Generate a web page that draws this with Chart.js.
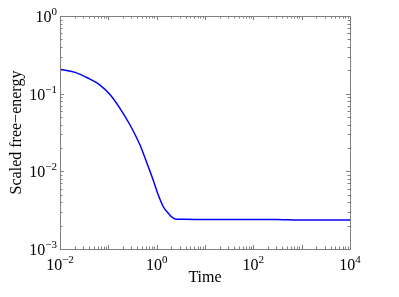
<!DOCTYPE html>
<html>
<head>
<meta charset="utf-8">
<script src="https://cdn.jsdelivr.net/npm/chart.js@4/dist/chart.umd.min.js"></script>
<style>
html,body{margin:0;padding:0;background:#fff;}
#wrap{width:399px;height:297px;position:relative;}
</style>
</head>
<body>
<div id="wrap"><canvas id="c" width="399" height="297"></canvas></div>
<script>
const times = [0.01, 0.0204, 0.0385, 0.0672, 0.108, 0.174, 0.281, 0.452, 0.662, 0.86, 1.081, 1.372, 1.741, 2.209, 2.636, 3.86, 10, 100, 300, 900, 10000];
const freeEnergy = [0.206, 0.188, 0.158, 0.129, 0.0976, 0.0648, 0.0395, 0.0218, 0.0117, 0.00751, 0.00496, 0.0035, 0.00288, 0.00249, 0.00241, 0.00241, 0.0024, 0.0024, 0.0024, 0.00236, 0.00236];
const xTickExps = [-2, 0, 2, 4];
const yTickExps = [-3, -2, -1, 0];
const xTitle = 'Time';
const yTitle = 'Scaled free\u2212energy';

const FONT = '"Liberation Serif", "Times New Roman", serif';
const AXIS = '#7f7f7f';

const decor = {
  id: 'decor',
  afterDraw(chart) {
    const ctx = chart.ctx, a = chart.chartArea;
    const xs = chart.scales.x, ys = chart.scales.y;
    ctx.save();
    ctx.strokeStyle = AXIS; ctx.lineWidth = 1;
    ctx.strokeRect(Math.round(a.left)+0.5, Math.round(a.top)+0.5, Math.round(a.right-a.left), Math.round(a.bottom-a.top));
    ctx.beginPath();
    for (let e = -2; e <= 4; e++) {
      for (let m = 1; m <= 9; m++) {
        const v = m * Math.pow(10, e);
        if (v > 1e4 + 1e-9) break;
        const px = Math.round(xs.getPixelForValue(v)) + 0.5;
        const len = (m === 1) ? 4 : 2.5;
        ctx.moveTo(px, a.bottom); ctx.lineTo(px, a.bottom - len);
        ctx.moveTo(px, a.top); ctx.lineTo(px, a.top + len);
      }
    }
    for (let e = -3; e <= 0; e++) {
      for (let m = 1; m <= 9; m++) {
        const v = m * Math.pow(10, e);
        if (v > 1 + 1e-9) break;
        const py = Math.round(ys.getPixelForValue(v)) + 0.5;
        const len = (m === 1) ? 4 : 2.5;
        ctx.moveTo(a.left, py); ctx.lineTo(a.left + len, py);
        ctx.moveTo(a.right, py); ctx.lineTo(a.right - len, py);
      }
    }
    ctx.stroke();
    ctx.fillStyle = '#000';
    const base = '16px ' + FONT, sup = '11px ' + FONT;
    function label(exp, x, y, align) {
      const b = '10', s = (exp < 0 ? '\u2212' : '') + Math.abs(exp);
      ctx.font = base; const bw = ctx.measureText(b).width;
      ctx.font = sup; const sw = ctx.measureText(s).width;
      let x0 = align === 'right' ? x - bw - sw : x - (bw + sw) / 2;
      ctx.textBaseline = 'alphabetic'; ctx.textAlign = 'left';
      ctx.font = base; ctx.fillText(b, x0, y);
      ctx.font = sup; ctx.fillText(s, x0 + bw, y - 7);
    }
    yTickExps.forEach(e => {
      const py = ys.getPixelForValue(Math.pow(10, e));
      label(e, a.left - 3, py + 6, 'right');
    });
    xTickExps.forEach(e => {
      const px = xs.getPixelForValue(Math.pow(10, e));
      label(e, px, a.bottom + 21, 'center');
    });
    ctx.font = '16px ' + FONT;
    ctx.textAlign = 'center'; ctx.textBaseline = 'alphabetic';
    ctx.fillText(xTitle, (a.left + a.right) / 2, 282);
    ctx.save();
    ctx.translate(21, (a.top + a.bottom) / 2);
    ctx.rotate(-Math.PI / 2);
    ctx.fillText(yTitle, 0, 0);
    ctx.restore();
    ctx.restore();
  }
};

new Chart(document.getElementById('c'), {
  type: 'line',
  data: {
    datasets: [{
      data: times.map((t, i) => ({x: t, y: freeEnergy[i]})),
      borderColor: '#0000ff',
      borderWidth: 1.5,
      pointRadius: 0,
      fill: false,
      cubicInterpolationMode: 'monotone'
    }]
  },
  options: {
    responsive: false,
    animation: false,
    devicePixelRatio: 1,
    layout: {padding: {left: 60, top: 16, right: 49, bottom: 48}},
    plugins: {legend: {display: false}, tooltip: {enabled: false}},
    scales: {
      x: {
        type: 'logarithmic', min: 0.01, max: 10000,
        ticks: {display: false}, grid: {display: false}, border: {display: false},
        afterFit(s) { s.height = 0; }
      },
      y: {
        type: 'logarithmic', min: 0.001, max: 1,
        ticks: {display: false}, grid: {display: false}, border: {display: false},
        afterFit(s) { s.width = 0; }
      }
    }
  },
  plugins: [decor]
});
</script>
</body>
</html>
